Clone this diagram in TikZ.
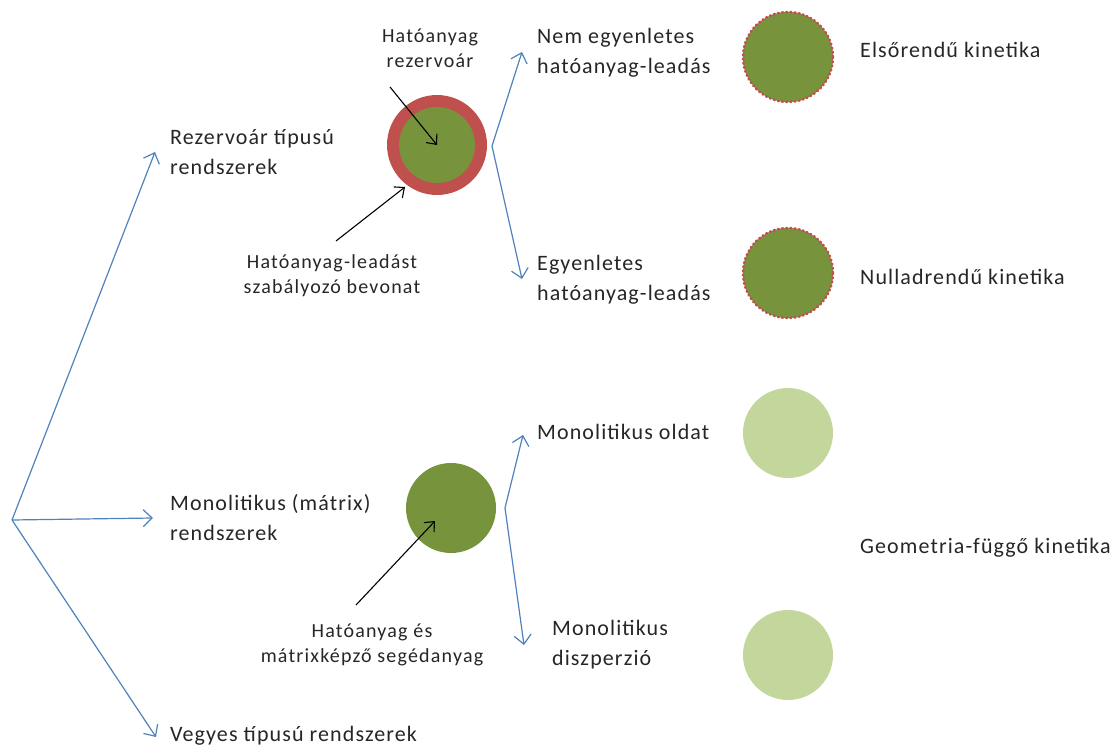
\documentclass[tikz,border=0pt]{standalone}
\usepackage{fontspec}
\setmainfont{Carlito}
\newfontfamily\bigfont[LetterSpace=5]{Carlito}
\newfontfamily\smallfont[LetterSpace=6]{Carlito}
\usetikzlibrary{arrows.meta}
\definecolor{bl}{HTML}{4F81BD}
\definecolor{dg}{HTML}{77933C}
\definecolor{rd}{HTML}{C0504D}
\definecolor{lg}{HTML}{C3D69B}
\tikzset{
  bigtxt/.style={font=\bigfont\fontsize{22}{30}\selectfont, align=left, anchor=west, inner sep=0pt, text=black!85},
  smalltxt/.style={font=\smallfont\fontsize{20}{25}\selectfont, align=center, inner sep=0pt, text=black!85},
  bluearrow/.style={draw=bl, line width=1.2pt, -{Straight Barb[length=9pt,width=17pt,line width=1.2pt]}},
  blackarrow/.style={draw=black, line width=1.1pt, -{Straight Barb[length=8pt,width=14pt,line width=1.1pt]}},
  disk/.style={circle, inner sep=0pt, minimum size=#1},
  dotrim/.style={draw=rd, line width=2.4pt, line cap=round, dash pattern=on 1.2pt off 3pt},
}
\begin{document}
\begin{tikzpicture}[x=1pt,y=-1pt]
\useasboundingbox (0,0) rectangle (1119,749);
% root tree
\coordinate (root) at (12,520);
\coordinate (t1) at (155,152);
\coordinate (t2) at (153,518);
\coordinate (t3) at (156,737);
\draw[bluearrow] (root) -- (t1);
\draw[bluearrow] (root) -- (t2);
\draw[bluearrow] (root) -- (t3);
\node[bigtxt] (rez) at (170,152) {Rezervoár típusú\\rendszerek};
\node[bigtxt] (mono) at (170,518) {Monolitikus (mátrix)\\rendszerek};
\node[bigtxt] (veg) at (170,736) {Vegyes típusú rendszerek};
% reservoir
\node[disk=100pt, fill=rd] (resout) at (437,145) {};
\node[disk=76pt, fill=dg] (resin) at (437,145) {};
\node[smalltxt] (lab1) at (430,48) {Hatóanyag\\rezervoár};
\coordinate (a1s) at (390,87);
\draw[blackarrow] (a1s) -- (resin.center);
\node[smalltxt] (lab2) at (332,276) {Hatóanyag-leadást\\szabályozó bevonat};
\coordinate (a2s) at (336,241);
\coordinate (a2e) at (405,187);
\draw[blackarrow] (a2s) -- (a2e);
% reservoir branches
\coordinate (b1) at (492,146);
\coordinate (b1u) at (522,52);
\coordinate (b1d) at (522,279);
\draw[bluearrow] (b1) -- (b1u);
\draw[bluearrow] (b1) -- (b1d);
\node[bigtxt] (nem) at (537,53) {Nem egyenletes\\hatóanyag-leadás};
\node[bigtxt] (egy) at (537,280) {Egyenletes\\hatóanyag-leadás};
\node[disk=90pt, fill=dg, dotrim] (c1) at (788,57) {};
\node[disk=90pt, fill=dg, dotrim] (c2) at (788,273) {};
\node[bigtxt] (elso) at (860,50) {Elsőrendű kinetika};
\node[bigtxt] (null) at (860,277) {Nulladrendű kinetika};
% monolithic
\node[disk=90pt, fill=dg] (mc) at (451,508) {};
\node[smalltxt] (lab3) at (372,645) {Hatóanyag és\\mátrixképző segédanyag};
\coordinate (a3s) at (356,605);
\coordinate (a3e) at (435,521);
\draw[blackarrow] (a3s) -- (a3e);
\coordinate (b2) at (505,508);
\coordinate (b2u) at (523,435);
\coordinate (b2d) at (524,645);
\draw[bluearrow] (b2) -- (b2u);
\draw[bluearrow] (b2) -- (b2d);
\node[bigtxt] (oldat) at (537,432) {Monolitikus oldat};
\node[bigtxt] (disz) at (552,645) {Monolitikus\\diszperzió};
\node[disk=90pt, fill=lg] (c3) at (788,433) {};
\node[disk=90pt, fill=lg] (c4) at (788,655) {};
\node[bigtxt] (geo) at (860,548) {Geometria-függő kinetika};
\end{tikzpicture}
\end{document}
